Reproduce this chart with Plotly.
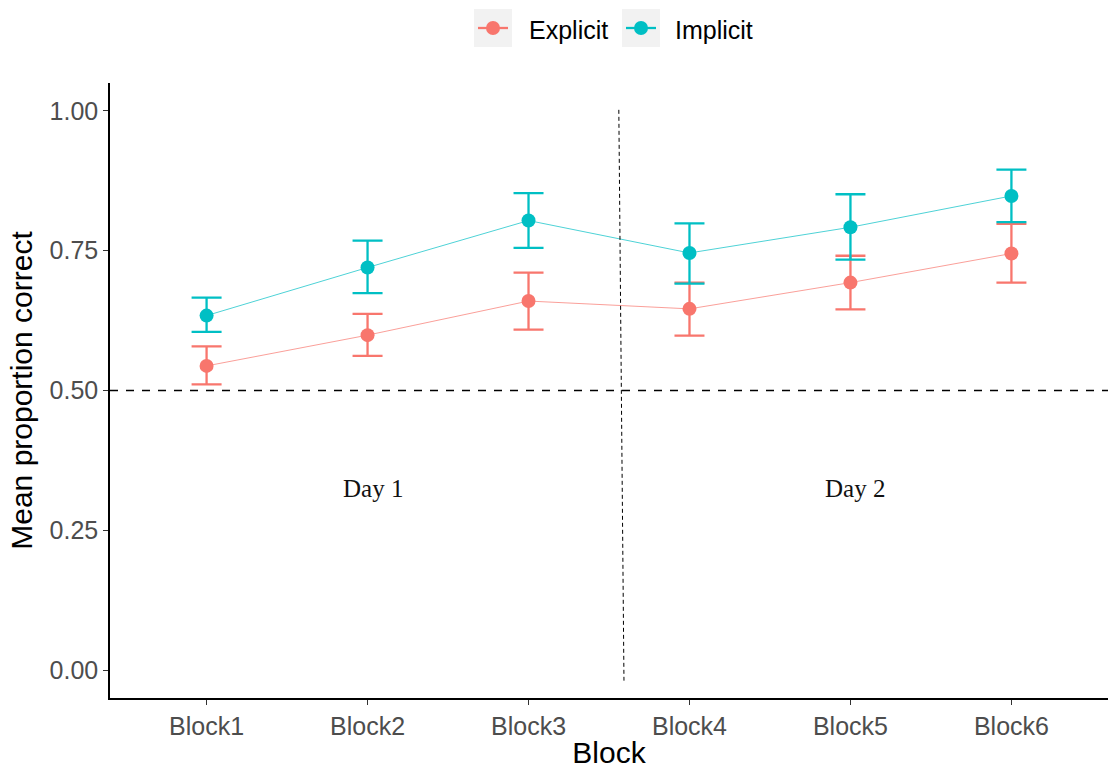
import plotly.graph_objects as go

blocks = ["Block1", "Block2", "Block3", "Block4", "Block5", "Block6"]

explicit_mean = [0.544, 0.599, 0.660, 0.646, 0.693, 0.745]
explicit_upper = [0.579, 0.637, 0.711, 0.693, 0.741, 0.798]
explicit_lower = [0.511, 0.562, 0.609, 0.598, 0.645, 0.693]

implicit_mean = [0.634, 0.720, 0.804, 0.746, 0.792, 0.848]
implicit_upper = [0.666, 0.768, 0.853, 0.799, 0.851, 0.895]
implicit_lower = [0.605, 0.674, 0.755, 0.691, 0.734, 0.801]

series = [
    ("Explicit", "#F8766D", explicit_mean, explicit_upper, explicit_lower),
    ("Implicit", "#00BFC4", implicit_mean, implicit_upper, implicit_lower),
]

W, H = 1109, 769
ML, MR, MT, MB = 110, 1, 83, 71
PW, PH = W - ML - MR, H - MT - MB


def px_x(px):
    return (px - ML) / PW


def px_y(py):
    return 1 + (MT - py) / PH


fig = go.Figure()
for name, color, m, up, lo in series:
    fig.add_trace(go.Scatter(
        x=blocks, y=m, name=name, mode="lines+markers", showlegend=False,
        line=dict(color=color, width=0.7),
        marker=dict(color=color, size=14),
        error_y=dict(type="data", symmetric=False,
                     array=[u - v for u, v in zip(up, m)],
                     arrayminus=[v - l for v, l in zip(m, lo)],
                     color=color, thickness=2.3, width=15),
    ))

fig.add_shape(type="line", xref="paper", yref="y", x0=0, x1=1, y0=0.5, y1=0.5,
              line=dict(color="black", width=1.6, dash="8px,8px"))
fig.add_shape(type="line", xref="x", yref="y", x0=2.561, x1=2.593, y0=1.002, y1=-0.019,
              line=dict(color="black", width=1, dash="4px,3px"))

fig.add_annotation(x=1.034, y=0.3255, text="Day 1", showarrow=False,
                   font=dict(family="Liberation Serif", size=25, color="#111111"))
fig.add_annotation(x=4.03, y=0.3255, text="Day 2", showarrow=False,
                   font=dict(family="Liberation Serif", size=25, color="#111111"))

# legend drawn in ggplot style (grey key boxes)
legend_items = [("Explicit", "#F8766D", 474, 527), ("Implicit", "#00BFC4", 622, 673)]
key_size = 38
key_top = 9
cy = 28
for name, color, kx, tx in legend_items:
    fig.add_shape(type="rect", xref="paper", yref="paper",
                  x0=px_x(kx), x1=px_x(kx + key_size), y0=px_y(key_top), y1=px_y(key_top + key_size),
                  fillcolor="#F2F2F2", line=dict(width=0), layer="above")
    fig.add_shape(type="line", xref="paper", yref="paper",
                  x0=px_x(kx + 4), x1=px_x(kx + key_size - 4), y0=px_y(cy), y1=px_y(cy),
                  line=dict(color=color, width=2.3), layer="above")
    cx = kx + key_size / 2
    r = 7
    fig.add_shape(type="circle", xref="paper", yref="paper",
                  x0=px_x(cx - r), x1=px_x(cx + r), y0=px_y(cy - r), y1=px_y(cy + r),
                  fillcolor=color, line=dict(width=0), layer="above")
    fig.add_annotation(xref="paper", yref="paper", x=px_x(tx), y=px_y(cy + 2),
                       xanchor="left", yanchor="middle", text=name, showarrow=False,
                       font=dict(size=25, color="black"))

fig.update_layout(
    width=W, height=H,
    margin=dict(l=ML, r=MR, t=MT, b=MB),
    paper_bgcolor="white", plot_bgcolor="white",
    font=dict(family="Liberation Sans, Arial", color="black"),
    showlegend=False,
    xaxis=dict(type="category", range=[-0.6, 5.6], showgrid=False, zeroline=False,
               showline=True, linecolor="black", linewidth=1.5, automargin=False,
               ticks="outside", ticklen=5, tickcolor="#333333", tickwidth=1,
               tickfont=dict(size=25, color="#4D4D4D"),
               title=dict(text="Block", font=dict(size=30, color="black"), standoff=8)),
    yaxis=dict(range=[-0.05, 1.05], showgrid=False, zeroline=False,
               showline=True, linecolor="black", linewidth=1.5, automargin=False,
               tickvals=[0, 0.25, 0.5, 0.75, 1.0],
               ticktext=["0.00", "0.25", "0.50", "0.75", "1.00"],
               ticks="outside", ticklen=5, tickcolor="#333333", tickwidth=1,
               tickfont=dict(size=25, color="#4D4D4D"),
               title=dict(text="Mean proportion correct", font=dict(size=30, color="black"), standoff=8)),
)

fig.write_html("out.html")
